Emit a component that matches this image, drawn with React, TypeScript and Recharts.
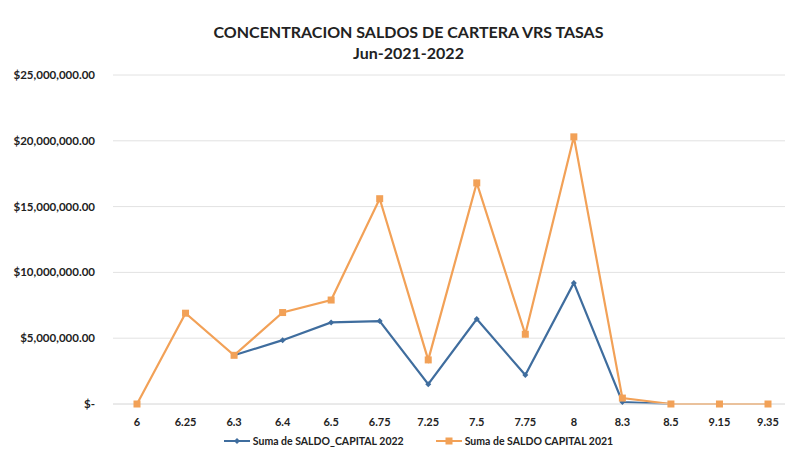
import {
  LineChart, Line, XAxis, YAxis, CartesianGrid, Legend,
} from "recharts";

const tasas = ["6", "6.25", "6.3", "6.4", "6.5", "6.75", "7.25", "7.5", "7.75", "8", "8.3", "8.5", "9.15", "9.35"];
const saldo2022 = [null, null, 3700000, 4850000, 6200000, 6300000, 1500000, 6450000, 2200000, 9200000, 150000, 0, null, null];
const saldo2021 = [0, 6900000, 3700000, 6950000, 7900000, 15600000, 3350000, 16800000, 5300000, 20300000, 450000, 0, 0, 0];
const yTicks = [0, 5000000, 10000000, 15000000, 20000000, 25000000];

const AZUL = "#3f6d9e";
const NARANJA = "#f2a157";
const FUENTE = "Lato, 'Open Sans', sans-serif";

const datos = tasas.map((t, i) => ({
  tasa: t,
  s2022: saldo2022[i],
  s2021: saldo2021[i],
}));

const moneda = (v: number) =>
  v === 0 ? "$-" : "$" + v.toLocaleString("en-US", { minimumFractionDigits: 2, maximumFractionDigits: 2 });

const Diamante = (props: any) => {
  const { cx, cy } = props;
  if (cx == null || cy == null || props.value == null) return null;
  return <path d={`M${cx},${cy - 3} L${cx + 3},${cy} L${cx},${cy + 3} L${cx - 3},${cy} Z`} fill={AZUL} />;
};

const Cuadro = (props: any) => {
  const { cx, cy } = props;
  if (cx == null || cy == null) return null;
  return <rect x={cx - 3.5} y={cy - 3.5} width={7} height={7} fill={NARANJA} />;
};

export default function App() {
  return (
    <div style={{ position: "absolute", left: 0, top: 0, width: 797, height: 456, background: "#fff", fontFamily: FUENTE }}>
      <div style={{ position: "absolute", left: 0, width: 797, top: 21, textAlign: "center", fontWeight: 700, fontSize: 16, color: "#222", lineHeight: "21px" }}>
        <div style={{ paddingLeft: 20 }}>CONCENTRACION SALDOS DE CARTERA VRS TASAS</div>
        <div style={{ paddingLeft: 20 }}>Jun-2021-2022</div>
      </div>
      <LineChart width={797} height={456} data={datos} margin={{ top: 75, right: 12, left: 0, bottom: 0 }}>
        <CartesianGrid vertical={false} stroke="#e2e2e2" />
        <XAxis
          dataKey="tasa"
          tick={{ fontSize: 11, fill: "#222", fontWeight: 700, fontFamily: FUENTE }}
          tickLine={false}
          axisLine={{ stroke: "#e2e2e2" }}
          height={24}
          tickMargin={8}
          interval={0}
          padding={{ left: 24, right: 17 }}
        />
        <YAxis
          width={113}
          domain={[0, 25000000]}
          ticks={yTicks}
          tickFormatter={moneda}
          tick={{ fontSize: 11.5, fill: "#222", fontWeight: 700, fontFamily: FUENTE }}
          tickLine={false}
          axisLine={false}
          tickMargin={12}
        />
        <Legend
          verticalAlign="bottom"
          height={28}
          content={() => (
            <div style={{ display: "flex", justifyContent: "center", gap: 32, fontSize: 10.5, fontWeight: 700, color: "#222", paddingLeft: 52, paddingTop: 7 }}>
              <span style={{ display: "flex", alignItems: "center", gap: 3 }}>
                <svg width={26} height={8}>
                  <line x1={0} y1={4} x2={26} y2={4} stroke={AZUL} strokeWidth={2} />
                  <path d="M13,1 L16,4 L13,7 L10,4 Z" fill={AZUL} />
                </svg>
                Suma de SALDO_CAPITAL 2022
              </span>
              <span style={{ display: "flex", alignItems: "center", gap: 3 }}>
                <svg width={26} height={8}>
                  <line x1={0} y1={4} x2={26} y2={4} stroke={NARANJA} strokeWidth={2} />
                  <rect x={9.5} y={0.5} width={7} height={7} fill={NARANJA} />
                </svg>
                Suma de SALDO CAPITAL 2021
              </span>
            </div>
          )}
        />
        <Line
          type="linear"
          dataKey="s2022"
          stroke={AZUL}
          strokeWidth={2.2}
          dot={<Diamante />}
          activeDot={false}
          isAnimationActive={false}
        />
        <Line
          type="linear"
          dataKey="s2021"
          stroke={NARANJA}
          strokeWidth={2.2}
          dot={<Cuadro />}
          activeDot={false}
          isAnimationActive={false}
        />
      </LineChart>
    </div>
  );
}
